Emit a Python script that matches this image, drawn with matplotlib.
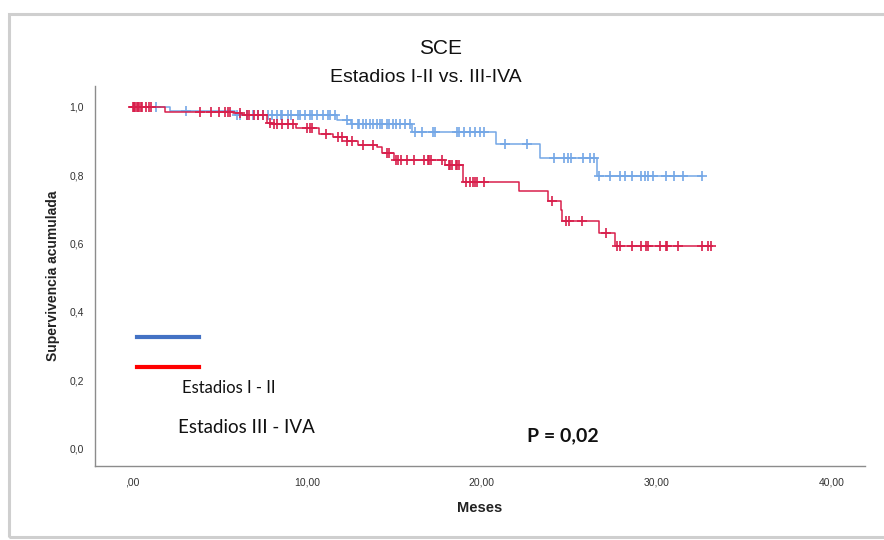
import numpy as np
from matplotlib import pyplot as plt
from matplotlib.patches import Rectangle

# Kaplan-Meier steps: event times and survival after each event
blue_times = [0, 2.2, 5.9, 11.7, 12.5, 16.0, 20.8, 23.3, 26.6]
blue_surv = [1.0, 0.988, 0.974, 0.962, 0.950, 0.927, 0.892, 0.851, 0.796]
blue_end = 32.6
blue_cens = [1.4, 3.1, 6.0, 6.2, 6.6, 6.9, 7.2, 7.5, 7.8, 8.0, 8.3, 8.5, 8.6, 8.9, 9.1,
             9.5, 9.6, 9.9, 10.2, 10.3, 10.6, 10.9, 11.2, 11.3, 11.6, 12.3, 12.6, 12.9,
             13.0, 13.2, 13.4, 13.6, 13.8, 14.0, 14.2, 14.3, 14.6, 14.7, 14.9, 15.1, 15.3,
             15.6, 15.9, 16.2, 16.6, 17.2, 17.3, 18.6, 18.7, 19.0, 19.3, 19.6, 19.9, 20.1,
             21.3, 22.6, 24.1, 24.7, 24.9, 25.1, 25.8, 26.2, 26.4, 26.7, 27.3, 27.9, 28.2,
             28.6, 29.1, 29.3, 29.5, 29.8, 30.5, 31.0, 31.5, 32.6]

red_times = [0, 1.9, 5.8, 6.3, 7.7, 8.0, 9.4, 10.7, 11.5, 12.3, 12.9, 14.0, 14.3, 15.0,
             17.9, 18.9, 22.1, 23.8, 24.5, 24.6, 26.7, 27.6]
red_surv = [1.0, 0.985, 0.980, 0.974, 0.953, 0.948, 0.936, 0.921, 0.910, 0.900, 0.889,
            0.883, 0.863, 0.843, 0.828, 0.781, 0.752, 0.723, 0.697, 0.665, 0.630, 0.592]
red_end = 33.1
red_cens = [0.05, 0.1, 0.15, 0.2, 0.3, 0.35, 0.4, 0.5, 0.6, 0.8, 1.0, 1.1, 3.9, 4.5, 5.0,
            5.3, 5.5, 5.6, 6.2, 6.6, 6.7, 7.0, 7.2, 7.5, 7.9, 8.1, 8.3, 8.6, 8.9, 9.2,
            10.0, 10.2, 10.3, 11.1, 11.8, 12.0, 12.3, 12.6, 13.2, 13.8, 14.6, 14.7, 15.1,
            15.2, 15.4, 15.7, 16.1, 16.7, 16.9, 17.0, 17.1, 17.7, 18.1, 18.2, 18.3, 18.5,
            18.6, 18.7, 19.1, 19.3, 19.5, 19.6, 19.7, 20.1, 24.0, 24.8, 25.0, 25.7, 27.1,
            27.7, 27.9, 28.6, 29.1, 29.4, 29.5, 30.2, 30.5, 30.6, 31.2, 32.6, 32.9, 33.1]

x_ticks = [0, 10, 20, 30, 40]
x_labels = [',00', '10,00', '20,00', '30,00', '40,00']
y_ticks = [0.0, 0.2, 0.4, 0.6, 0.8, 1.0]
y_labels = ['0,0', '0,2', '0,4', '0,6', '0,8', '1,0']

blue_col = '#74a7e6'
red_col = '#d81f4c'


def km_curve(ax, times, surv, end, cens, color):
    t = np.array(times + [end])
    s = np.array(surv + [surv[-1]])
    ax.step(t, s, where='post', color=color, lw=1.1)
    c = np.array(cens)
    idx = np.searchsorted(np.array(times), c, side='right') - 1
    ax.plot(c, np.array(surv)[idx], linestyle='none', marker='+', color=color,
            markersize=7, mew=1.2)


fig = plt.figure(figsize=(8.84, 5.40), dpi=100)
fig.patches.append(Rectangle((9 / 884, 3 / 540), 1.0, 523 / 540, transform=fig.transFigure,
                             fill=False, edgecolor='#cfcfcf', lw=2.2))
ax = fig.add_axes([95 / 884, 74 / 540, 770 / 884, 380 / 540])

km_curve(ax, blue_times, blue_surv, blue_end, blue_cens, blue_col)
km_curve(ax, red_times, red_surv, red_end, red_cens, red_col)

ax.set_xlim(-2.1, 41.9)
ax.set_ylim(-0.05, 1.06)
ax.set_xticks(x_ticks)
ax.set_xticklabels(x_labels)
ax.set_yticks(y_ticks)
ax.set_yticklabels(y_labels)
ax.tick_params(length=0, labelsize=7.5, labelcolor='#333333', pad=8)
for lab in ax.get_xticklabels() + ax.get_yticklabels():
    lab.set_family('Liberation Sans')
ax.spines['top'].set_visible(False)
ax.spines['right'].set_visible(False)
for sp in ['left', 'bottom']:
    ax.spines[sp].set_color('#8c8c8c')
    ax.spines[sp].set_linewidth(1.0)

ax.set_xlabel('Meses', fontsize=10.5, fontweight='bold', family='Liberation Sans',
              color='#222222', labelpad=10)
ax.set_ylabel('Supervivencia acumulada', fontsize=10, fontweight='bold',
              family='Liberation Sans', color='#222222', labelpad=7)

fig.text(441 / 884, 1 - 48 / 540, 'SCE', ha='center', va='center', fontsize=15,
         family='Liberation Sans', color='#111111')
fig.text(426 / 884, 1 - 78 / 540, 'Estadios I-II vs. III-IVA', ha='center', va='center',
         fontsize=14, family='Liberation Sans', color='#111111')

# hand-made legend
ax.plot([0.0545, 0.135], [0.339, 0.339], transform=ax.transAxes, color='#4472c4', lw=3)
ax.plot([0.0545, 0.135], [0.261, 0.261], transform=ax.transAxes, color='#ff0000', lw=3)
ax.text(0.113, 0.205, 'Estadios I - II', transform=ax.transAxes, va='center', ha='left',
        fontsize=12, family='Lato', color='#111111')
ax.text(0.108, 0.102, 'Estadios III - IVA', transform=ax.transAxes, va='center', ha='left',
        fontsize=13.5, family='Lato', color='#111111')
ax.text(0.561, 0.079, 'P = 0,02', transform=ax.transAxes, va='center', ha='left',
        fontsize=14, fontweight='bold', family='Lato', color='#111111')

fig.savefig('out.png', dpi=100)
